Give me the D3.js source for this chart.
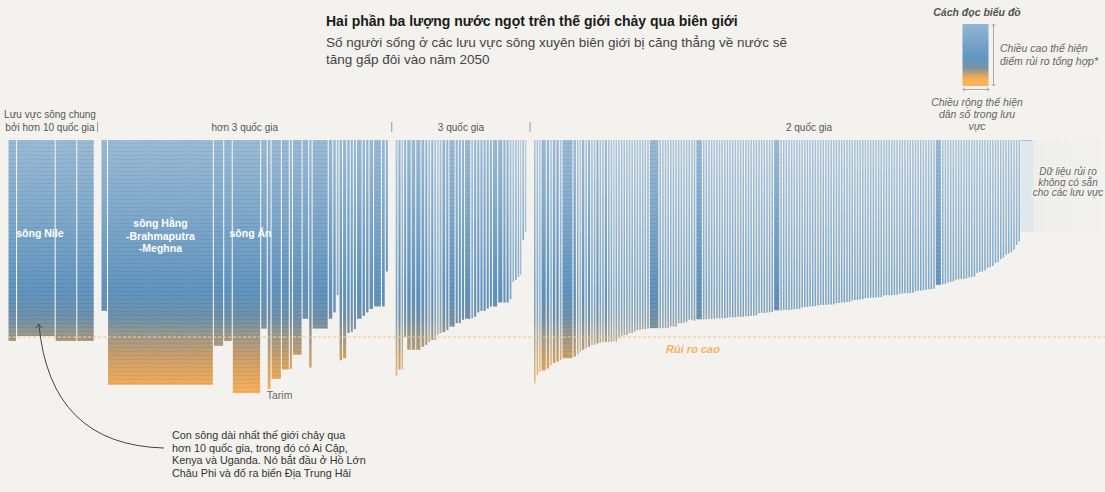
<!DOCTYPE html>
<html><head><meta charset="utf-8">
<script src="https://cdn.jsdelivr.net/npm/d3@7"></script>
<style>
body{margin:0;background:#f3f2ee;}
svg{display:block;font-family:"Liberation Sans","Noto Sans",Arial,sans-serif;}
</style></head><body>
<svg id="c" width="1105" height="492"></svg>
<script>
// ---------- DATA ----------
const groupNames = ["Lưu vực sông chung|bởi hơn 10 quốc gia", "hơn 3 quốc gia", "3 quốc gia", "2 quốc gia"];

// Group 1: shared by more than 10 countries (population in millions, composite risk score)
const g1Pop  = [44, 220, 120, 96];
const g1Risk = [4.08, 3.98, 4.08, 4.08];
const g1Name = ["", "sông Nile", "", ""];

// Group 2: more than 3 countries
const g2Pop  = [32,614,54,44,160,32,16,54,40,12,50,32,14,88,20,14,10,14,18,14,12,12,26,14,14,20,40,16,12];
const g2Risk = [3.47,4.97,4.18,4.08,5.14,3.83,5.06,4.85,4.66,4.65,4.36,3.63,4.62,3.83,3.63,3.50,3.15,4.47,4.43,3.92,3.90,3.84,3.63,3.57,3.50,3.43,3.38,3.38,2.67];
const g2Name = ["","sông Hằng|-Brahmaputra|-Meghna","","","sông Ấn","","Tarim"];

// Group 3: 3 countries
const g3Pop  = [10,12,8,12,20,20,24,16,12,10,12,10,8,10,16,12,30,12,12,12,30,10,12,12,12,12,12,12,24,24,12,12,10,8,10,8,6,10,6];
const g3Risk = [4.79,4.66,4.66,4.00,4.26,4.26,4.26,4.20,4.16,4.10,4.06,4.06,3.96,3.92,3.90,3.86,3.79,3.72,3.72,3.65,3.63,3.62,3.59,3.50,3.47,3.47,3.42,3.38,3.38,3.30,3.30,3.30,3.23,2.88,2.84,2.78,2.74,2.03,1.86];

// Group 4: 2 countries
const g4Pop = [9,9,7,24,14,9,14,14,9,58,
 14,9,7,14,9,12,9,9,12,9,
 9,12,9,9,7,9,9,9,9,9,
 9,9,9,9,9,9,9,9,50,9,
 9,9,9,9,9,9,9,9,9,9,
 9,9,9,32,
 9,9,9,9,9,9,9,9,9,9,
 9,9,9,9,9,9,9,9,9,9,9,
 9,9,9,9,9,9,
 30,9,9,9,9,9,9,9,9,
 9,9,9,9,9,9,
 9,9,9,9,9,9,9,
 9,9,9,9,9,9,
 9,9,9,9,
 9,
 9,9,9,9,9,9,9,
 9,9,9,9,9,9,
 9,9,9,9,9,9,
 9,9,9,9,
 9,9,9,9,
 30,
 9,9,
 9,9,9,
 9,9,9,9,9,
 9,9,9,
 9,9,9,9,
 9,9,9,
 9,9,
 9,9,
 9,9,
 9,9,9,9];
const g4Risk = [4.94,4.77,4.71,4.68,4.64,4.57,4.53,4.50,4.47,4.43,
 4.40,4.35,4.30,4.26,4.23,4.20,4.16,4.16,4.13,4.12,
 4.10,4.10,4.10,4.10,4.09,4.09,4.03,3.99,3.96,3.96,
 3.92,3.92,3.89,3.86,3.86,3.84,3.84,3.83,3.82,3.82,
 3.82,3.82,3.82,3.79,3.79,3.79,3.72,3.72,3.71,3.69,
 3.65,3.65,3.67,3.64,
 3.64,3.64,3.63,3.63,3.63,3.62,3.62,3.62,3.62,3.61,
 3.60,3.60,3.60,3.59,3.59,3.59,3.58,3.58,3.57,3.57,3.56,
 3.52,3.51,3.51,3.50,3.50,3.49,
 3.46,3.46,3.45,3.45,3.45,3.44,3.44,3.43,3.43,
 3.40,3.39,3.39,3.38,3.38,3.37,
 3.36,3.35,3.35,3.35,3.34,3.34,3.34,
 3.31,3.31,3.30,3.30,3.29,3.29,
 3.26,3.25,3.25,3.24,
 3.23,
 3.21,3.21,3.20,3.20,3.20,3.19,3.19,
 3.16,3.15,3.15,3.15,3.14,3.14,
 3.12,3.12,3.11,3.11,3.11,3.10,
 3.07,3.06,3.06,3.05,
 3.04,3.03,3.03,3.02,
 2.94,
 2.93,2.92,
 2.89,2.88,2.87,
 2.84,2.83,2.82,2.82,2.81,
 2.79,2.78,2.77,
 2.70,2.68,2.67,2.65,
 2.60,2.58,2.56,
 2.50,2.48,
 2.42,2.39,
 2.33,2.30,
 2.28,2.23,2.13,2.06];

const highRisk = 4;   // threshold "Rủi ro cao"

const titleText = "Hai phần ba lượng nước ngọt trên thế giới chảy qua biên giới";
const subtitleLines = ["Số người sống ở các lưu vực sông xuyên biên giới bị căng thẳng về nước sẽ", "tăng gấp đôi vào năm 2050"];
const noteLines = ["Con sông dài nhất thế giới chảy qua", "hơn 10 quốc gia, trong đó có Ai Cập,", "Kenya và Uganda. Nó bắt đầu ở Hồ Lớn", "Châu Phi và đổ ra biển Địa Trung Hải"];
const noDataLines = ["Dữ liệu rủi ro", "không có sẵn", "cho các lưu vực"];
const legendTitle = "Cách đọc biểu đồ";
const legendHeight = ["Chiều cao thể hiện", "điểm rủi ro tổng hợp*"];
const legendWidth = ["Chiều rộng thể hiện", "dân số trong lưu", "vực"];
const highRiskLabel = "Rủi ro cao";

// ---------- LAYOUT ----------
const svg = d3.select("#c");
const X0 = 8.5, X1 = 1020, GAP = 1.1, GGAP = 7.8, TOP = 140;

const groups = [
  {pop:g1Pop, risk:g1Risk, name:g1Name},
  {pop:g2Pop, risk:g2Risk, name:g2Name},
  {pop:g3Pop, risk:g3Risk, name:[]},
  {pop:g4Pop, risk:g4Risk, name:[]}
];
const nBars = d3.sum(groups, g => g.pop.length);
const totalPop = d3.sum(groups, g => d3.sum(g.pop));
const wScale = d3.scaleLinear().domain([0, totalPop])
  .range([0, (X1 - X0) - GGAP*(groups.length-1) - GAP*(nBars - groups.length)]);
const y = d3.scaleLinear().domain([0, highRisk]).range([TOP, 337]);

const bars = [];
const groupExt = [];
let cx = X0;
groups.forEach((g, gi) => {
  const start = cx;
  g.pop.forEach((p, i) => {
    const w = wScale(p);
    bars.push({g:gi, x:cx, w, risk:g.risk[i], name:g.name[i]||""});
    cx += w + GAP;
  });
  cx -= GAP;
  groupExt.push([start, cx]);
  cx += GGAP;
});

// ---------- DEFS ----------
const defs = svg.append("defs");
const grad = defs.append("linearGradient").attr("id","barGrad")
  .attr("gradientUnits","userSpaceOnUse").attr("x1",0).attr("x2",0).attr("y1",TOP).attr("y2",395);
[[140,"#98b9d5"],[210,"#7ea8ca"],[292,"#5d91bc"],[318,"#6b8ea9"],[337,"#9c9887"],[355,"#c69c68"],[375,"#e2a55a"],[395,"#fbb05a"]]
  .forEach(([yy,c]) => grad.append("stop").attr("offset",(yy-TOP)/(395-TOP)).attr("stop-color",c));

const lg = defs.append("linearGradient").attr("id","legGrad").attr("x1",0).attr("x2",0).attr("y1",0).attr("y2",1);
[[0,"#93b6d3"],[0.55,"#6095bf"],[0.72,"#7d93a0"],[0.84,"#e6a75c"],[0.9,"#fbb25b"],[1,"#fbb25b"]]
  .forEach(([o,c]) => lg.append("stop").attr("offset",o).attr("stop-color",c));

const pat = defs.append("pattern").attr("id","dots").attr("patternUnits","userSpaceOnUse")
  .attr("width",2).attr("height",2);
pat.append("rect").attr("width",1).attr("height",1).attr("fill","#d9e2e6");
const fade = defs.append("linearGradient").attr("id","fadeH").attr("x1",0).attr("x2",1).attr("y1",0).attr("y2",0);
fade.append("stop").attr("offset",0).attr("stop-color","#fff").attr("stop-opacity",1);
fade.append("stop").attr("offset",1).attr("stop-color","#fff").attr("stop-opacity",0.35);
const mask = defs.append("mask").attr("id","fadeMask");
mask.append("rect").attr("x",1020).attr("y",TOP).attr("width",82).attr("height",94).attr("fill","url(#fadeH)");

// water texture
const tex = defs.append("pattern").attr("id","tex").attr("patternUnits","userSpaceOnUse")
  .attr("width",40).attr("height",4);
tex.append("path").attr("d","M0,1.5 Q10,0.8 20,1.5 T40,1.5").attr("fill","none").attr("stroke","#ffffff").attr("stroke-opacity",0.08).attr("stroke-width",0.8);
tex.append("path").attr("d","M0,3.2 Q10,3.8 20,3.2 T40,3.2").attr("fill","none").attr("stroke","#3a3a3a").attr("stroke-opacity",0.09).attr("stroke-width",0.9);

// ---------- BARS ----------
const gBars = svg.append("g");
gBars.selectAll("rect.bar").data(bars).join("rect").attr("class","bar")
  .attr("x", d => d.x).attr("width", d => d.w)
  .attr("y", TOP).attr("height", d => y(d.risk) - TOP)
  .attr("fill","url(#barGrad)")
  .attr("fill-opacity", d => d.w < 2 ? 0.8 : 1);
gBars.selectAll("rect.tex").data(bars.filter(d => d.w > 5)).join("rect").attr("class","tex")
  .attr("x", d => d.x).attr("width", d => d.w)
  .attr("y", TOP).attr("height", d => y(d.risk) - TOP)
  .attr("fill","url(#tex)");

// no-data area
const nd = svg.append("g");
nd.append("rect").attr("x",1020.5).attr("y",TOP).attr("width",80).attr("height",92)
  .attr("fill","url(#dots)").attr("mask","url(#fadeMask)");
nd.append("rect").attr("x",1020.5).attr("y",TOP).attr("width",13).attr("height",92)
  .attr("fill","#e1e8eb");
nd.append("line").attr("x1",1021).attr("x2",1032).attr("y1",TOP+0.5).attr("y2",TOP+0.5)
  .attr("stroke","#a7c1d4").attr("stroke-width",1);
const ndt = nd.append("text").attr("text-anchor","middle").attr("font-size",10)
  .attr("font-style","italic").attr("fill","#666")
  .attr("stroke","#f3f2ee").attr("stroke-width",3).attr("paint-order","stroke");
noDataLines.forEach((t,i) => ndt.append("tspan").attr("x",1068).attr("y",175 + i*10.7).text(t));

// high risk line
svg.append("line").attr("x1",8).attr("x2",1105).attr("y1",y(highRisk)).attr("y2",y(highRisk))
  .attr("stroke","#f7c684").attr("stroke-width",1).attr("stroke-dasharray","3,2");
svg.append("text").attr("x",693).attr("y",353).attr("text-anchor","middle")
  .attr("font-size",11).attr("font-weight","bold").attr("font-style","italic")
  .attr("fill","#f6b362").text(highRiskLabel);

// river labels inside bars
bars.filter(d => d.name && d.name !== "Tarim").forEach(d => {
  const lines = d.name.split("|");
  const t = svg.append("text").attr("text-anchor","middle").attr("font-size",10.5)
    .attr("font-weight","bold").attr("fill","#fff");
  const y0 = lines.length > 1 ? 227 : 237;
  lines.forEach((l,i) => t.append("tspan").attr("x", d.x + d.w/2 + (lines.length>1?0:4)).attr("y", y0 + i*12.5).text(l));
});
const tarim = bars.find(d => d.name === "Tarim");
svg.append("text").attr("x", tarim.x - 1).attr("y", 399).attr("font-size",10.5).attr("fill","#666").text("Tarim");

// group labels and separators
const gl = svg.append("g").attr("font-size",10).attr("fill","#555").attr("text-anchor","middle");
groupNames.forEach((n,i) => {
  const [a,b] = groupExt[i];
  const parts = n.split("|");
  let cxl = (a+b)/2;
  if (i === 0) cxl = 50;
  if (i === 3) cxl = (a+b)/2 + 32;
  parts.forEach((p,j) => gl.append("text").attr("x",cxl).attr("y",131 - (parts.length-1-j)*13).text(p));
  if (i > 0) {
    const mx = (groupExt[i-1][1] + a)/2;
    svg.append("line").attr("x1",mx).attr("x2",mx).attr("y1",122).attr("y2",132)
      .attr("stroke","#999").attr("stroke-width",1);
  }
});

// title
svg.append("text").attr("x",326).attr("y",26).attr("font-size",14).attr("font-weight","bold")
  .attr("fill","#1a1a1a").text(titleText);
subtitleLines.forEach((t,i) => svg.append("text").attr("x",326).attr("y",47 + i*16.5)
  .attr("font-size",13.5).attr("fill","#444").text(t));

// annotation
const nile = bars.find(d => d.name === "sông Nile");
const tipX = nile.x + nile.w/2 + 3, tipY = 324;
svg.append("path").attr("d", `M164,448 Q50,445 ${tipX},${tipY}`)
  .attr("fill","none").attr("stroke","#444").attr("stroke-width",1);
svg.append("path").attr("d", `M${tipX-3},${tipY+4} L${tipX},${tipY} L${tipX+3},${tipY+4}`)
  .attr("fill","none").attr("stroke","#444").attr("stroke-width",1);
noteLines.forEach((t,i) => svg.append("text").attr("x",172).attr("y",439 + i*12.6)
  .attr("font-size",10.8).attr("fill","#333").text(t));

// legend
const L = svg.append("g");
L.append("text").attr("x",977).attr("y",16).attr("text-anchor","middle").attr("font-size",10.5)
  .attr("font-weight","bold").attr("font-style","italic").attr("fill","#555").text(legendTitle);
L.append("rect").attr("x",962.5).attr("y",24).attr("width",26).attr("height",62).attr("fill","url(#legGrad)");
L.append("line").attr("x1",993.5).attr("x2",993.5).attr("y1",24).attr("y2",86).attr("stroke","#aaa");
L.append("path").attr("d","M991.5,26 L993.5,24 L995.5,26 M991.5,84 L993.5,86 L995.5,84").attr("fill","none").attr("stroke","#aaa");
L.append("line").attr("x1",963).attr("x2",989).attr("y1",89.5).attr("y2",89.5).attr("stroke","#aaa");
L.append("path").attr("d","M965,87.5 L963,89.5 L965,91.5 M987,87.5 L989,89.5 L987,91.5").attr("fill","none").attr("stroke","#aaa");
legendHeight.forEach((t,i) => L.append("text").attr("x",1000).attr("y",52 + i*12.5)
  .attr("font-size",10.5).attr("font-style","italic").attr("fill","#666").text(t));
legendWidth.forEach((t,i) => L.append("text").attr("x",977).attr("y",106 + i*12)
  .attr("text-anchor","middle").attr("font-size",10.5).attr("font-style","italic").attr("fill","#666").text(t));
</script>
</body></html>
